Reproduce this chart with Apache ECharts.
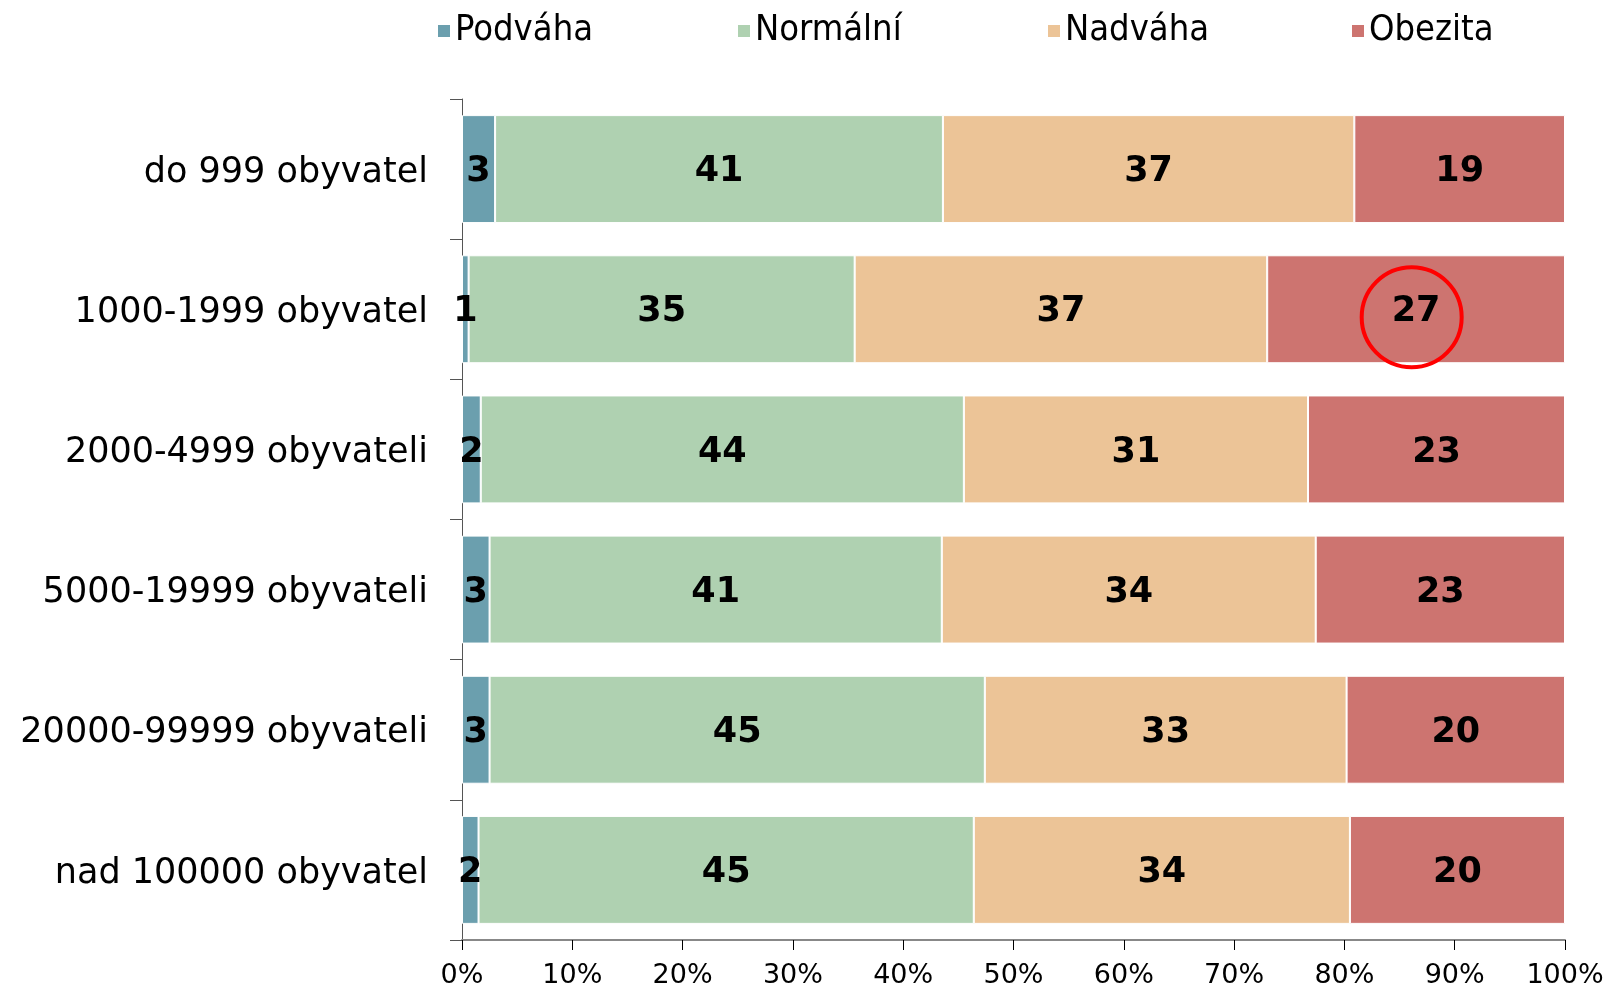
<!DOCTYPE html>
<html>
<head>
<meta charset="utf-8">
<script src="https://cdn.jsdelivr.net/npm/echarts@6/dist/echarts.min.js"></script>
<style>
  html, body { margin: 0; padding: 0; background: #fff; }
  #chart { width: 1608px; height: 987px; }
</style>
</head>
<body>
<div id="chart"></div>
<script>
// kategorie (shora dolu)
var kategorie = ['do 999 obyvatel', '1000-1999 obyvatel', '2000-4999 obyvateli',
  '5000-19999 obyvateli', '20000-99999 obyvateli', 'nad 100000 obyvatel'];

// podily v %
var podvaha  = [3.0, 0.6, 1.7, 2.5, 2.5, 1.5];
var normalni = [40.6, 35.0, 43.8, 41.0, 44.9, 44.9];
var nadvaha  = [37.3, 37.4, 31.2, 33.9, 32.8, 34.1];
var obezita  = [19.1, 27.0, 23.3, 22.6, 19.8, 19.5];

var nazvy = ['Podváha', 'Normální', 'Nadváha', 'Obezita'];
var xTicks = [0, 10, 20, 30, 40, 50, 60, 70, 80, 90, 100];

// zvyrazneni (cervene kolecko)
var zvyrazneni = { x: 86.1, kategorie: '1000-1999 obyvatel' };

var barvy = ['#6b9fae', '#afd1b1', '#ecc497', '#cd7470'];
var legendaLeft = [431, 731, 1041, 1345];

function serie(nazev, data, barva) {
  return {
    name: nazev,
    type: 'bar',
    stack: 'celkem',
    data: data,
    barCategoryGap: '23%',
    itemStyle: { color: barva, borderColor: '#fff', borderWidth: 1 },
    label: {
      show: true,
      position: 'inside',
      offset: [0, 3],
      color: '#000',
      fontFamily: 'DejaVu Sans',
      fontWeight: 'bold',
      fontSize: 35,
      formatter: function (p) { return Math.round(p.value); }
    },
    emphasis: { disabled: true }
  };
}

// kazda polozka legendy zvlast, at sedi pozice
var legendy = nazvy.map(function (n, i) {
  return {
    top: 8,
    left: legendaLeft[i],
    itemWidth: 14,
    itemHeight: 14,
    icon: 'rect',
    selectedMode: false,
    textStyle: { fontFamily: 'DejaVu Sans Condensed', fontSize: 36, color: '#000', padding: [0, 0, 0, -1] },
    data: [n]
  };
});

var mychart = echarts.init(document.getElementById('chart'));
var option = {
  animation: false,
  color: barvy,
  legend: legendy,
  grid: { left: 462, right: 43, top: 99, bottom: 47, containLabel: false, outerBoundsMode: 'none' },
  xAxis: {
    type: 'value',
    min: 0,
    max: 100,
    interval: 10,
    axisLine: { show: true, lineStyle: { color: '#888', width: 2 } },
    axisTick: { show: true, length: 10, lineStyle: { color: '#000' } },
    splitLine: { show: false },
    axisLabel: {
      color: '#000',
      fontFamily: 'DejaVu Sans',
      fontSize: 27,
      margin: 22,
      formatter: function (v) { return xTicks.indexOf(v) >= 0 ? v + '%' : ''; }
    }
  },
  yAxis: {
    type: 'category',
    inverse: true,
    data: kategorie,
    axisLine: { show: true, lineStyle: { color: '#555', width: 1 } },
    axisTick: { show: true, length: 12, lineStyle: { color: '#555' } },
    axisLabel: {
      margin: 34,
      formatter: function (v) { return '{k|' + v + '}'; },
      rich: {
        k: { color: '#000', fontFamily: 'DejaVu Sans', fontSize: 35, padding: [7, 0, 0, 0] }
      }
    }
  },
  series: [
    serie(nazvy[0], podvaha, barvy[0]),
    serie(nazvy[1], normalni, barvy[1]),
    serie(nazvy[2], nadvaha, barvy[2]),
    serie(nazvy[3], obezita, barvy[3])
  ]
};
mychart.setOption(option);

var bod = mychart.convertToPixel({ gridIndex: 0 }, [zvyrazneni.x, zvyrazneni.kategorie]);
mychart.setOption({
  graphic: [{
    type: 'circle',
    shape: { cx: bod[0], cy: bod[1] + 8, r: 50 },
    style: { fill: 'none', stroke: '#ff0000', lineWidth: 4 },
    z: 100
  }]
});
</script>
</body>
</html>
